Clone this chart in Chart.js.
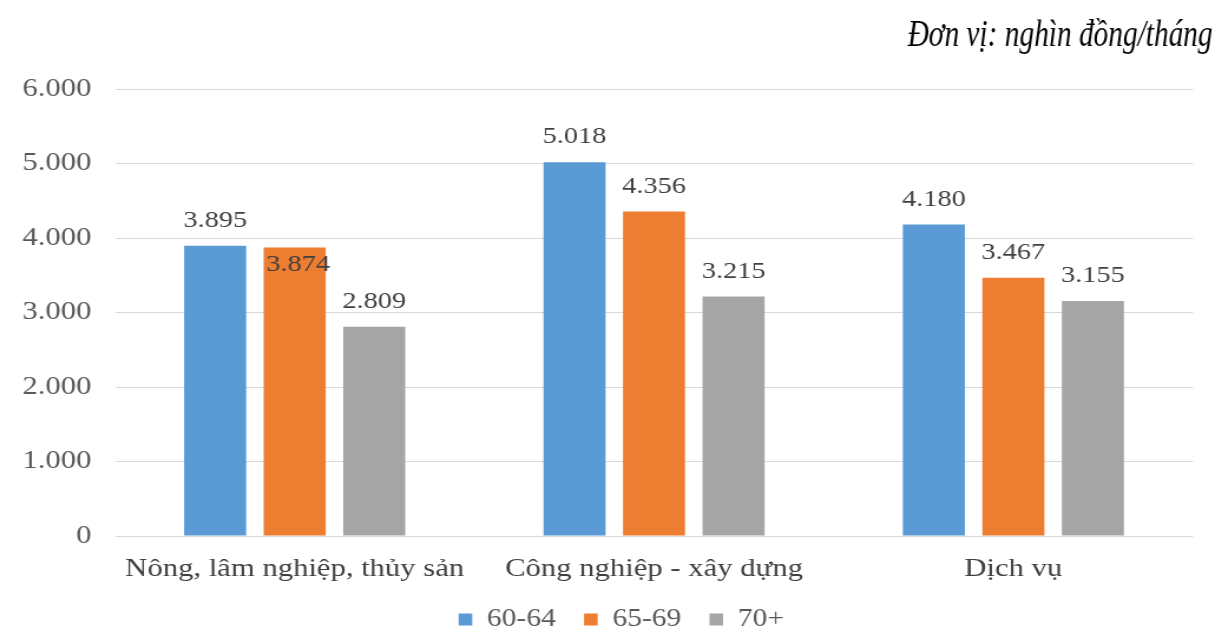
<!DOCTYPE html>
<html>
<head>
<meta charset="utf-8">
<script src="https://cdn.jsdelivr.net/npm/chart.js@4.4.1/dist/chart.umd.min.js"></script>
<style>
  html, body { margin: 0; padding: 0; background: #fff; overflow: hidden; }
  #wrap { width: 1030px; height: 628px; transform: scaleX(1.1796); transform-origin: 0 0; }
  canvas { display: block; }
</style>
</head>
<body>
<div id="wrap"><canvas id="c" width="1030" height="628"></canvas></div>
<script>
// Thu nhập bình quân tháng của người cao tuổi theo ngành và nhóm tuổi
const categories = ['Nông, lâm nghiệp, thủy sản', 'Công nghiệp - xây dựng', 'Dịch vụ'];
const seriesNames = ['60-64', '65-69', '70+'];
const age60to64 = [3895, 5018, 4180];
const age65to69 = [3874, 4356, 3467];
const age70plus = [2809, 3215, 3155];
const unitLabel = 'Đơn vị: nghìn đồng/tháng';

const colors = ['#5B9BD5', '#ED7D31', '#A5A5A5'];
const serif = '"Liberation Serif"';

// thousands separator with a dot
const fmt = v => String(Math.round(v)).replace(/\B(?=(\d{3})+(?!\d))/g, '.');

const valueLabels = {
  id: 'valueLabels',
  afterDatasetsDraw(chart) {
    const ctx = chart.ctx;
    ctx.save();
    ctx.font = '24px ' + serif;
    ctx.fillStyle = '#404040';
    ctx.textAlign = 'center';
    ctx.textBaseline = 'middle';
    chart.data.datasets.forEach((ds, di) => {
      chart.getDatasetMeta(di).data.forEach((el, i) => {
        const inside = di === 1 && i === 0;
        const y = inside ? el.y + 17 : el.y - 25;
        ctx.fillText(fmt(ds.data[i]), el.x + (inside ? 3 : 0), y);
      });
    });
    ctx.restore();
  }
};

// unit note in the top-right corner, tall condensed italic
const unitTitle = {
  id: 'unitTitle',
  afterDraw(chart) {
    const ctx = chart.ctx;
    ctx.save();
    ctx.font = 'italic 37px ' + serif;
    const w = ctx.measureText(unitLabel).width;
    ctx.fillStyle = '#000';
    ctx.textAlign = 'right';
    ctx.textBaseline = 'alphabetic';
    ctx.translate(chart.width - 2, 46);
    ctx.scale(258.6 / w, 1);
    ctx.fillText(unitLabel, 0, 0);
    ctx.restore();
  }
};

// nudge the legend row so it sits centred under the bars, close to the bottom edge
const legendPlacement = {
  id: 'legendPlacement',
  afterLayout(chart) {
    const lg = chart.legend;
    if (!lg) return;
    lg.left += 21; lg.right += 21;
    lg.top -= 13; lg.bottom -= 13;
  }
};

function draw() {
  new Chart(document.getElementById('c'), {
    type: 'bar',
    data: {
      labels: categories,
      datasets: [
        { label: seriesNames[0], data: age60to64, backgroundColor: colors[0] },
        { label: seriesNames[1], data: age65to69, backgroundColor: colors[1] },
        { label: seriesNames[2], data: age70plus, backgroundColor: colors[2] }
      ]
    },
    options: {
      responsive: false,
      animation: false,
      devicePixelRatio: 1,
      datasets: { bar: { categoryPercentage: 0.664, barPercentage: 0.78 } },
      layout: { padding: { top: 89, left: 0, right: 18.6, bottom: -27 } },
      plugins: {
        tooltip: { enabled: false },
        legend: {
          position: 'bottom',
          labels: {
            font: { family: serif, size: 25 },
            color: '#595959',
            boxWidth: 11.5,
            boxHeight: 12,
            padding: 24
          }
        }
      },
      scales: {
        x: {
          grid: { display: false },
          border: { display: false },
          ticks: { font: { family: serif, size: 26 }, color: '#404040', padding: 10 },
          afterFit(scale) { scale.height = 60; }
        },
        y: {
          min: 0,
          max: 6000,
          grid: { color: '#D9D9D9', lineWidth: 1, drawTicks: false },
          border: { display: false },
          ticks: {
            stepSize: 1000,
            font: { family: serif, size: 26 },
            color: '#595959',
            padding: 20,
            callback: v => fmt(v)
          },
          afterFit(scale) { scale.width = 97.5; }
        }
      }
    },
    plugins: [valueLabels, unitTitle, legendPlacement]
  });
}

Promise.all([
  document.fonts.load('24px "Liberation Serif"', 'Đơn vị 0123456789'),
  document.fonts.load('italic 37px "Liberation Serif"', 'Đơn vị')
]).then(draw, draw);
</script>
</body>
</html>
